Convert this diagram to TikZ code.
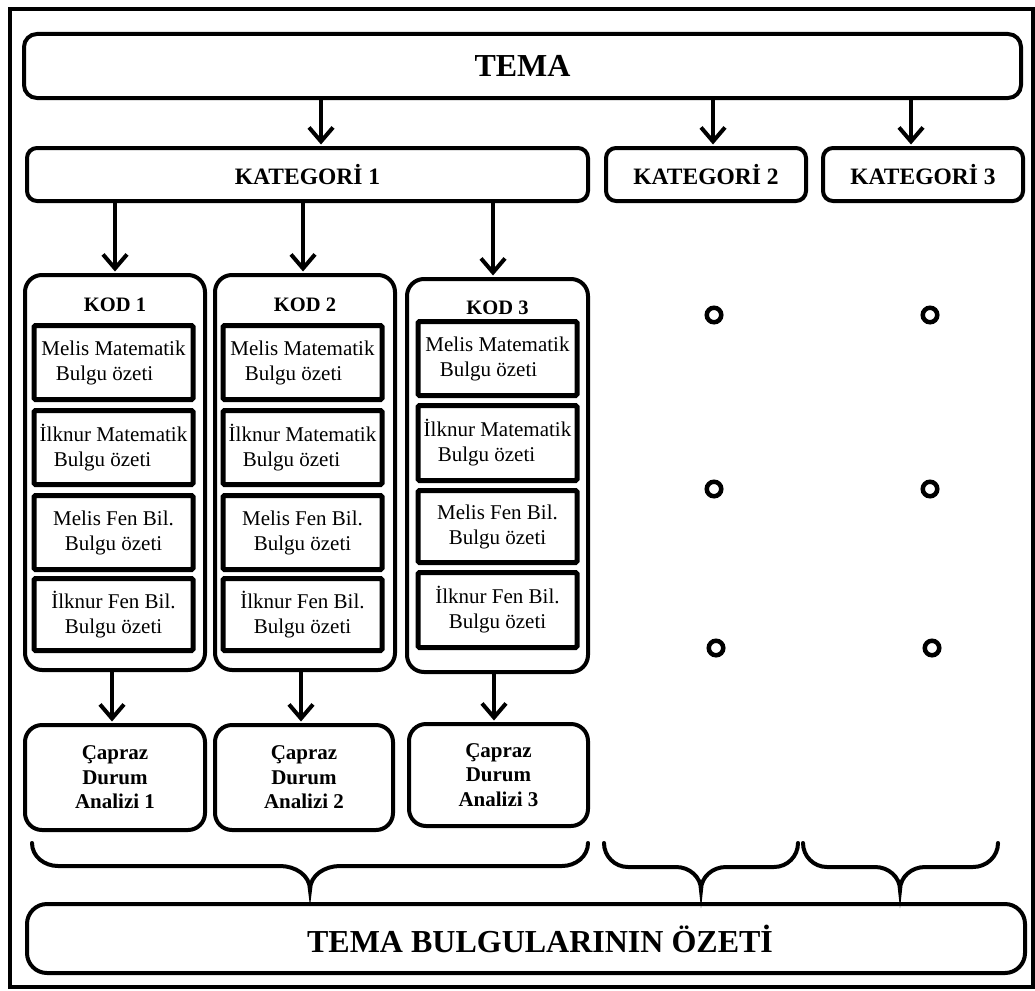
\documentclass[tikz,border=0pt]{standalone}
\usepackage{fontspec}
\setmainfont{Liberation Serif}
\usetikzlibrary{arrows.meta}
\begin{document}
\begin{tikzpicture}[x=1pt,y=-1pt,
  bigbox/.style={draw, line width=4pt, rounded corners=14pt, inner sep=0pt, align=center},
  cell/.style={draw, line width=5pt, rounded corners=1.5pt, inner sep=0pt, align=center,
    minimum width=159pt, font=\fontsize{21}{25}\selectfont},
  kodbox/.style={bigbox, rounded corners=17pt},
  kat/.style={bigbox, rounded corners=10pt, minimum height=53pt, font=\bfseries\fontsize{23.5}{28}\selectfont},
  capbox/.style={bigbox, rounded corners=17pt, font=\bfseries\fontsize{21}{24.5}\selectfont},
  kodlabel/.style={font=\bfseries\fontsize{20.5}{24}\selectfont, inner sep=0pt},
  arr/.style={line width=4pt, shorten >=1.5pt, -{Straight Barb[length=14pt,width=24pt]}},
  brace/.style={line width=4pt, line cap=round},
  dot/.style={draw, circle, line width=4.5pt, minimum size=14.5pt, inner sep=0pt}
]
\useasboundingbox (0,0) rectangle (1035,990);
% outer frame
\draw[line width=4pt] (9.5,9) rectangle (1032.5,986.5);

% theme
\node[bigbox, rounded corners=13pt, minimum width=997pt, minimum height=64pt,
  font=\bfseries\fontsize{32}{36}\selectfont] (tema) at (522.5,66) {TEMA};

% categories
\node[kat, minimum width=561pt] (kat1) at (307.5,174.5) {KATEGORİ 1};
\node[kat, minimum width=200pt] (kat2) at (706,174.5) {KATEGORİ 2};
\node[kat, minimum width=200pt] (kat3) at (923,174.5) {KATEGORİ 3};

\coordinate (ta1) at (321,0);
\coordinate (ta2) at (713,0);
\coordinate (ta3) at (911,0);
\draw[arr] (tema.south -| ta1) -- (kat1.north -| ta1);
\draw[arr] (tema.south -| ta2) -- (kat2.north -| ta2);
\draw[arr] (tema.south -| ta3) -- (kat3.north -| ta3);

% code boxes
\node[kodbox, minimum width=180pt, minimum height=395pt] (kod1) at (115,472.5) {};
\node[kodbox, minimum width=180pt, minimum height=395pt] (kod2) at (305,472.5) {};
\node[kodbox, minimum width=181pt, minimum height=393pt] (kod3) at (497.5,475.5) {};

\node[kodlabel] (k1l) at (115,305) {KOD 1};
\node[kodlabel] (k2l) at (305,305) {KOD 2};
\node[kodlabel] (k3l) at (497.5,308) {KOD 3};

\coordinate (ka1) at (115,0);
\coordinate (ka2) at (303,0);
\coordinate (ka3) at (493,0);
\draw[arr] (kat1.south -| ka1) -- (kod1.north -| ka1);
\draw[arr] (kat1.south -| ka2) -- (kod2.north -| ka2);
\draw[arr] (kat1.south -| ka3) -- (kod3.north -| ka3);

% cells KOD 1
\node[cell, minimum height=74pt] (c11) at (113.5,362.5) {Melis Matematik\\Bulgu özeti\hspace*{18pt}};
\node[cell, minimum height=74pt] (c12) at (113.5,447.5) {İlknur Matematik\\Bulgu özeti\hspace*{22pt}};
\node[cell, minimum height=74pt] (c13) at (113.5,532.5) {Melis Fen Bil.\\Bulgu özeti};
\node[cell, minimum height=72pt] (c14) at (113.5,614.5) {İlknur Fen Bil.\\Bulgu özeti};
% cells KOD 2
\node[cell, minimum height=74pt] (c21) at (302.5,362.5) {Melis Matematik\\Bulgu özeti\hspace*{18pt}};
\node[cell, minimum height=74pt] (c22) at (302.5,447.5) {İlknur Matematik\\Bulgu özeti\hspace*{22pt}};
\node[cell, minimum height=74pt] (c23) at (302.5,532.5) {Melis Fen Bil.\\Bulgu özeti};
\node[cell, minimum height=72pt] (c24) at (302.5,614.5) {İlknur Fen Bil.\\Bulgu özeti};
% cells KOD 3
\node[cell, minimum height=74pt] (c31) at (497.5,358.5) {Melis Matematik\\Bulgu özeti\hspace*{18pt}};
\node[cell, minimum height=75pt] (c32) at (497.5,443) {İlknur Matematik\\Bulgu özeti\hspace*{22pt}};
\node[cell, minimum height=72pt] (c33) at (497.5,526.5) {Melis Fen Bil.\\Bulgu özeti};
\node[cell, minimum height=75pt] (c34) at (497.5,610) {İlknur Fen Bil.\\Bulgu özeti};

% cross-case analysis boxes
\node[capbox, minimum width=180pt, minimum height=105pt] (cap1) at (115,777.5) {Çapraz\\Durum\\Analizi 1};
\node[capbox, minimum width=178pt, minimum height=105pt] (cap2) at (304,777.5) {Çapraz\\Durum\\Analizi 2};
\node[capbox, minimum width=179pt, minimum height=102pt] (cap3) at (498.5,775) {Çapraz\\Durum\\Analizi 3};

\coordinate (kb1) at (112,0);
\coordinate (kb2) at (301,0);
\coordinate (kb3) at (494,0);
\draw[arr] (kod1.south -| kb1) -- (cap1.north -| kb1);
\draw[arr] (kod2.south -| kb2) -- (cap2.north -| kb2);
\draw[arr] (kod3.south -| kb3) -- (cap3.north -| kb3);

% dots for categories 2 and 3
\node[dot] (d21) at (714,315) {};
\node[dot] (d22) at (714,489) {};
\node[dot] (d23) at (716,648) {};
\node[dot] (d31) at (930,315) {};
\node[dot] (d32) at (930,489) {};
\node[dot] (d33) at (932,648) {};

% braces
\draw[brace] (32,843) to[out=-90,in=180] (58,866) -- (280,866)
  to[out=0,in=90] (310,890) to[out=90,in=180] (340,866) -- (562,866)
  to[out=0,in=-90] (588,843);
\draw[brace] (604,843) to[out=-90,in=180] (628,867) -- (676,867)
  to[out=0,in=90] (701,890) to[out=90,in=180] (726,867) -- (774,867)
  to[out=0,in=-90] (798,843);
\draw[brace] (803,843) to[out=-90,in=180] (827,867) -- (875,867)
  to[out=0,in=90] (900,890) to[out=90,in=180] (925,867) -- (973,867)
  to[out=0,in=-90] (998,843);

% summary
\node[bigbox, rounded corners=20pt, minimum width=998pt, minimum height=69pt,
  font=\bfseries\fontsize{32}{36}\selectfont] (ozet) at (526,938.5) {\hspace*{28pt}TEMA BULGULARININ ÖZETİ};
\end{tikzpicture}
\end{document}
